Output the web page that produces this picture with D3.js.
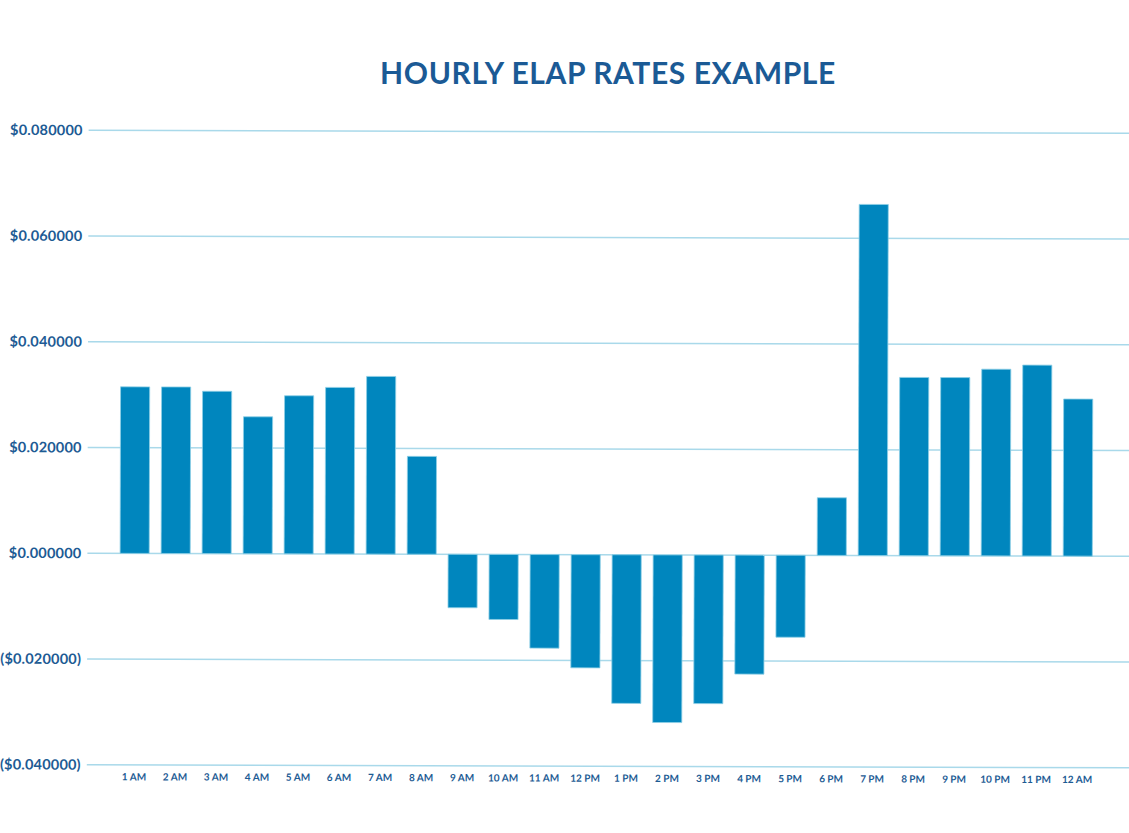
<!DOCTYPE html>
<html>
<head>
<meta charset="utf-8">
<script src="https://cdn.jsdelivr.net/npm/d3@7"></script>
<style>
  html, body { margin: 0; padding: 0; background: #fff; }
  svg { display: block; }
</style>
</head>
<body>
<svg id="chart" width="1129" height="833"></svg>
<script>
// hours on the x axis
const hours = ["1 AM", "2 AM", "3 AM", "4 AM", "5 AM", "6 AM", "7 AM", "8 AM",
  "9 AM", "10 AM", "11 AM", "12 PM", "1 PM", "2 PM", "3 PM", "4 PM", "5 PM",
  "6 PM", "7 PM", "8 PM", "9 PM", "10 PM", "11 PM", "12 AM"];

// ELAP rate per hour ($)
const rates = [0.0315, 0.0315, 0.0307, 0.0259, 0.0299, 0.0315, 0.0336, 0.0185,
  -0.0101, -0.0123, -0.0177, -0.0214, -0.0281, -0.0317, -0.0281, -0.0225, -0.0155,
  0.0109, 0.0664, 0.0337, 0.0337, 0.0353, 0.0361, 0.0297];

const yTicks = [0.08, 0.06, 0.04, 0.02, 0, -0.02, -0.04];

const svg = d3.select("#chart");

// title
svg.append("text")
  .attr("x", 608)
  .attr("y", 84)
  .attr("text-anchor", "middle")
  .attr("font-family", "Lato, sans-serif")
  .attr("font-weight", 700)
  .attr("font-size", 30)
  .attr("letter-spacing", 0.6)
  .attr("fill", "#1b5a95")
  .text("HOURLY ELAP RATES EXAMPLE");

// the picture is a tiny bit tilted, so the plot is too
const g = svg.append("g").attr("transform", "rotate(0.165)");

const x = d3.scaleBand()
  .domain(hours)
  .range([109.8, 1105.8])
  .paddingInner(0.29)
  .paddingOuter(0.29);

const y = d3.scaleLinear()
  .domain([-0.04, 0.08])
  .range([764.5, 130]);

const fmt = v => {
  const s = "$" + Math.abs(v).toFixed(6);
  return v < 0 ? "(" + s + ")" : s;
};

// grid lines
g.append("g")
  .selectAll("line")
  .data(yTicks)
  .join("line")
  .attr("x1", 89)
  .attr("x2", 1135)
  .attr("y1", d => y(d))
  .attr("y2", d => y(d))
  .attr("stroke", "#a9d9ea")
  .attr("stroke-width", 1.5);

// y labels
g.append("g")
  .selectAll("text")
  .data(yTicks)
  .join("text")
  .attr("x", 83)
  .attr("y", d => y(d) + 5)
  .attr("text-anchor", "end")
  .attr("font-family", "Lato, sans-serif")
  .attr("font-weight", 700)
  .attr("font-size", 14.5)
  .attr("letter-spacing", 0.2)
  .attr("fill", "#1d5b94")
  .text(fmt);

// bars
g.append("g")
  .selectAll("rect")
  .data(rates)
  .join("rect")
  .attr("x", (d, i) => x(hours[i]))
  .attr("width", x.bandwidth())
  .attr("y", d => y(Math.max(0, d)))
  .attr("height", d => Math.abs(y(d) - y(0)))
  .attr("fill", "#0086be")
  .attr("stroke", "#8fcfe6")
  .attr("stroke-width", 0.8);

// x labels
g.append("g")
  .selectAll("text")
  .data(hours)
  .join("text")
  .attr("x", d => x(d) + x.bandwidth() / 2)
  .attr("y", 780)
  .attr("text-anchor", "middle")
  .attr("font-family", "Lato, sans-serif")
  .attr("font-weight", 700)
  .attr("font-size", 10)
  .attr("fill", "#1d5b94")
  .text(d => d);
</script>
</body>
</html>
